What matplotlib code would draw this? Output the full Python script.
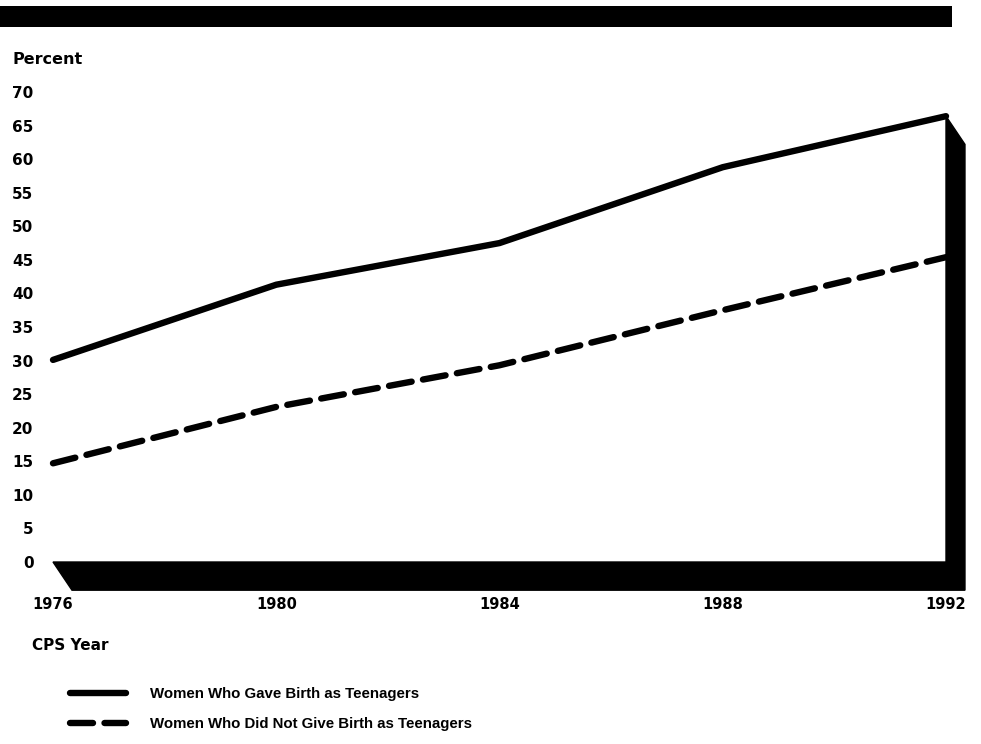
import matplotlib
matplotlib.use("Agg")
import matplotlib.pyplot as plt
from matplotlib.patches import Polygon, Rectangle

# data
years = [1976, 1980, 1984, 1988, 1992]
gave_birth = [30.1, 41.3, 47.5, 58.8, 66.4]
no_birth = [14.7, 23.1, 29.3, 37.5, 45.4]
y_ticks = list(range(0, 75, 5))
labels = ["Women Who Gave Birth as Teenagers",
          "Women Who Did Not Give Birth as Teenagers"]

W, H = 981, 744
fig = plt.figure(figsize=(W / 100, H / 100), dpi=100)
fig.patch.set_facecolor("white")

# axes placed so 1976..1992 / 0..70 land where the scan has them
ax = fig.add_axes([53 / W, 182 / H, 893 / W, 470 / H])
ax.set_xlim(years[0], years[-1])
ax.set_ylim(0, 70)
ax.patch.set_alpha(0)
for s in ax.spines.values():
    s.set_visible(False)

lw = 4.6
l1, = ax.plot(years, gave_birth, color="black", lw=lw,
              solid_capstyle="round", solid_joinstyle="round", clip_on=False)
l2, = ax.plot(years, no_birth, color="black", lw=lw, dashes=(3.6, 1.8),
              dash_capstyle="round", clip_on=False)

# pseudo-3D floor and right wall
dx = 0.34   # depth in years
dy = 4.2    # depth in percent
top = gave_birth[-1]
x0, x1 = years[0], years[-1]
shade = Polygon([(x0, 0), (x1, 0), (x1, top), (x1 + dx, top - dy),
                 (x1 + dx, -dy), (x0 + dx, -dy)],
                closed=True, facecolor="black", edgecolor="black",
                clip_on=False, zorder=1)
ax.add_patch(shade)

ax.set_yticks(y_ticks)
ax.set_yticklabels([str(v) for v in y_ticks])
ax.set_xticks(years)
ax.set_xticklabels([str(v) for v in years])
ax.tick_params(axis="y", length=0, pad=14)
ax.tick_params(axis="x", length=0, pad=25)
for t in ax.get_yticklabels():
    t.set_fontfamily("DejaVu Sans")
    t.set_fontweight("bold")
    t.set_fontsize(11)
for t in ax.get_xticklabels():
    t.set_fontfamily("DejaVu Sans")
    t.set_fontweight("bold")
    t.set_fontsize(10.5)

# black band across the top of the scan
fig.patches.append(Rectangle((0, 1 - 27 / H), 952 / W, 21 / H,
                             transform=fig.transFigure, facecolor="black",
                             edgecolor="none"))

fig.text(13 / W, 1 - 60 / H, "Percent", fontsize=11.5, fontweight="bold",
         family="DejaVu Sans", ha="left", va="center")
fig.text(32 / W, 1 - 645 / H, "CPS Year", fontsize=11, fontweight="bold",
         family="DejaVu Sans", ha="left", va="center")

leg = fig.legend([l1, l2], labels, loc="upper left",
                 bbox_to_anchor=(70 / W, 1 - 687 / H), frameon=False,
                 borderpad=0, borderaxespad=0, handlelength=3.7,
                 handletextpad=1.6, labelspacing=1.05,
                 prop={"family": "Liberation Sans", "weight": "bold",
                       "size": 10.8})

fig.savefig("out.png", dpi=100, facecolor="white")
